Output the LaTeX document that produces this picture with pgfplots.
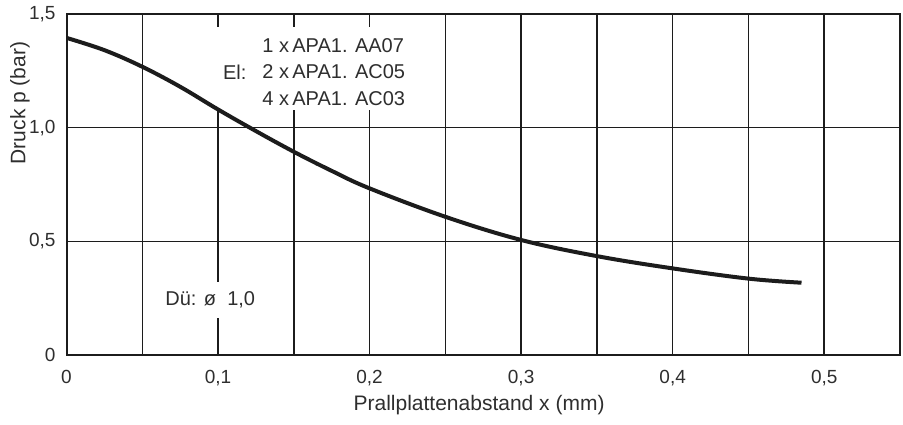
\documentclass[border=0pt]{standalone}
\usepackage{pgfplots}
\pgfplotsset{compat=1.18}
\usepackage{fontspec}
\setmainfont{Liberation Sans}
\definecolor{ink}{HTML}{1C1C1C}
\definecolor{txt}{HTML}{2E2E2E}
\begin{document}
\begin{tikzpicture}
\path[use as bounding box] (-33.25pt,-34.5pt) rectangle (418.25pt,177.5pt);
\begin{axis}[
  at={(0pt,0pt)}, anchor=south west,
  scale only axis, width=416.75pt, height=170.5pt,
  xmin=0, xmax=0.55, ymin=0, ymax=1.5,
  xtick={0,0.1,0.2,0.3,0.4,0.5},
  xticklabels={0,{0,1},{0,2},{0,3},{0,4},{0,5}},
  minor xtick={0.05,0.15,0.25,0.35,0.45},
  ytick={0,0.5,1,1.5},
  yticklabels={0,{0,5},{1,0},{1,5}},
  major tick length=0pt, minor tick length=0pt,
  xmajorgrids, xminorgrids, ymajorgrids,
  grid style={line width=0.75pt, ink},
  major grid style={line width=0.75pt, ink},
  minor grid style={line width=0.75pt, ink},
  axis line style={line width=1pt, ink},
  ticklabel style={font=\fontsize{9.5}{11}\selectfont, text=txt},
  xticklabel style={yshift=-4pt},
  yticklabel style={xshift=-2pt},
  xlabel={Prallplattenabstand x (mm)},
  ylabel={Druck p (bar)},
  xlabel style={at={(axis description cs:0.495,-0.147)}, anchor=center,
                font=\fontsize{10.5}{12}\selectfont, text=txt},
  ylabel style={at={(axis description cs:-0.0558,0.739)}, anchor=center,
                font=\fontsize{10.5}{12}\selectfont, text=txt},
]
% white patches behind the annotations
\fill[white] (axis cs:0.095,1.077) rectangle (axis cs:0.227,1.442);
\fill[white] (axis cs:0.062,0.163) rectangle (axis cs:0.127,0.321);

% pressure over baffle-plate distance
\addplot[ink, line width=2pt, smooth, tension=0.6] coordinates {
  (0,1.395) (0.025,1.341) (0.05,1.268) (0.075,1.180) (0.1,1.080)
  (0.125,0.985) (0.15,0.894) (0.175,0.810) (0.2,0.733) (0.25,0.608)
  (0.3,0.506) (0.35,0.435) (0.4,0.381) (0.45,0.336) (0.485,0.318)
};

% heavier left and bottom frame
\draw[ink, line width=1.4pt] (rel axis cs:0,1) -- (rel axis cs:0,0) -- (rel axis cs:1,0);

\node[anchor=west, inner sep=0pt, font=\fontsize{10}{12}\selectfont, text=txt]
  at (axis cs:0.129,1.363) {1 x\,APA1. AA07};
\node[anchor=west, inner sep=0pt, font=\fontsize{10}{12}\selectfont, text=txt]
  at (axis cs:0.129,1.245) {2 x\,APA1. AC05};
\node[anchor=west, inner sep=0pt, font=\fontsize{10}{12}\selectfont, text=txt]
  at (axis cs:0.129,1.130) {4 x\,APA1. AC03};
\node[anchor=east, inner sep=0pt, font=\fontsize{10}{12}\selectfont, text=txt]
  at (axis cs:0.119,1.245) {El:};
\node[anchor=west, inner sep=0pt, font=\fontsize{10}{12}\selectfont, text=txt]
  at (axis cs:0.065,0.242) {Dü: ø\ \ 1,0};
\end{axis}
\end{tikzpicture}
\end{document}
